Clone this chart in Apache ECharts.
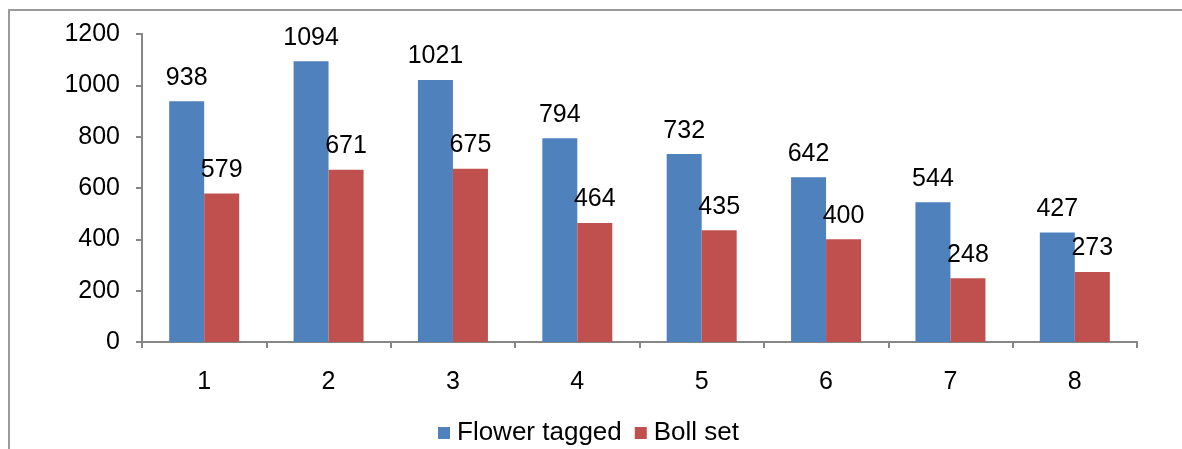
<!DOCTYPE html>
<html>
<head>
<meta charset="utf-8">
<script src="https://cdn.jsdelivr.net/npm/echarts@6/dist/echarts.min.js"></script>
<style>
html,body{margin:0;padding:0;background:#fff;}
#frame{position:absolute;left:8px;top:9px;width:1200px;height:460px;border:2px solid #9a9a9a;box-sizing:border-box;}
#chart{position:absolute;left:0;top:0;width:1182px;height:449px;}
</style>
</head>
<body>
<div id="frame"></div>
<div id="chart"></div>
<script>
const categories = ['1','2','3','4','5','6','7','8'];
const flowerTagged = [938, 1094, 1021, 794, 732, 642, 544, 427];
const bollSet = [579, 671, 675, 464, 435, 400, 248, 273];
const yTicks = {min: 0, max: 1200, interval: 200};

const chart = echarts.init(document.getElementById('chart'), null, {renderer: 'canvas'});
const font = 'Liberation Sans, Arial, sans-serif';
const axisColor = '#868686';
const fs = 25;
const labelStyle = {show: true, position: 'top', distance: 11, color: '#000', fontFamily: font, fontSize: fs};
chart.setOption({
  animation: false,
  backgroundColor: 'transparent',
  grid: {left: 142, right: 45, top: 34, bottom: 107},
  legend: {
    bottom: -2, left: 433, itemWidth: 12, itemHeight: 12, itemGap: 13,
    icon: 'rect',
    textStyle: {fontFamily: font, fontSize: 26, color: '#000', padding: [0,0,0,2]},
    data: ['Flower tagged', 'Boll set']
  },
  xAxis: {
    type: 'category', data: categories,
    axisLine: {lineStyle: {color: axisColor, width: 2}},
    axisTick: {show: true, alignWithLabel: false, length: 6, lineStyle: {color: axisColor, width: 2}},
    axisLabel: {color: '#000', fontFamily: font, fontSize: fs, margin: 28}
  },
  yAxis: {
    type: 'value', min: yTicks.min, max: yTicks.max, interval: yTicks.interval,
    splitLine: {show: false},
    axisLine: {show: true, lineStyle: {color: axisColor, width: 2}},
    axisTick: {show: true, length: 6, lineStyle: {color: axisColor, width: 2}},
    axisLabel: {color: '#000', fontFamily: font, fontSize: fs, margin: 22, formatter: v => String(v)}
  },
  series: [
    {name: 'Flower tagged', type: 'bar', data: flowerTagged, barWidth: 35, barGap: '0%',
     itemStyle: {color: '#4F81BD'}, label: labelStyle},
    {name: 'Boll set', type: 'bar', data: bollSet, barWidth: 35, barGap: '0%',
     itemStyle: {color: '#C0504D'}, label: labelStyle}
  ]
});
</script>
</body>
</html>
